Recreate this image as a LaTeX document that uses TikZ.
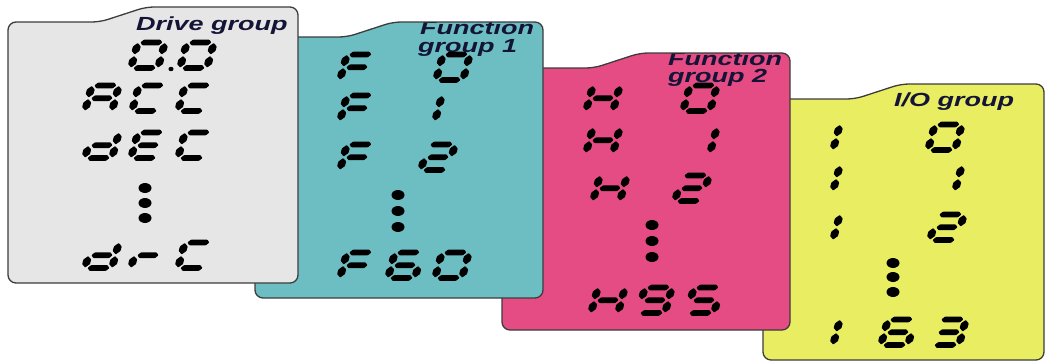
\documentclass[tikz,border=0pt]{standalone}
\usepackage{fontspec}
\newfontfamily\labfont[FakeStretch=1.42]{Liberation Sans}

\definecolor{drivegray}{RGB}{230,230,230}
\definecolor{functeal}{RGB}{108,190,195}
\definecolor{funcpink}{RGB}{228,76,131}
\definecolor{ioyellow}{RGB}{232,237,98}
\definecolor{cardedge}{RGB}{60,60,60}
\definecolor{labelink}{RGB}{20,20,55}

\tikzset{
  segfill/.style={fill=black, rounded corners=0.6pt},
  cardline/.style={draw=cardedge, line width=1.3pt},
  lab/.style={font=\labfont\bfseries\itshape\fontsize{19}{21}\selectfont,
              text=labelink, inner sep=0pt, anchor=base west},
  dotmark/.style={fill=black}
}

% one horizontal / vertical segment of a seven-segment cell
\newcommand\hseg[3]{\fill[segfill] (#2,#1) -- ({#2+2.6},{#1+2.8}) -- ({#3-2.6},{#1+2.8}) -- (#3,#1) -- ({#3-2.6},{#1-2.8}) -- ({#2+2.6},{#1-2.8}) -- cycle;}
\newcommand\vseg[3]{\fill[segfill] (#1,#2) -- ({#1+3.9},{#2+3.4}) -- ({#1+3.9},{#3-3.4}) -- (#1,#3) -- ({#1-3.9},{#3-3.4}) -- ({#1-3.9},{#2+3.4}) -- cycle;}
\newcommand\segxa{\hseg{25.5}{2.6}{24.4}}
\newcommand\segxb{\vseg{27}{13.6}{25}}
\newcommand\segxc{\vseg{27}{0.5}{11.9}}
\newcommand\segxd{\hseg{0}{2.6}{24.4}}
\newcommand\segxe{\vseg{0}{0.5}{11.9}}
\newcommand\segxf{\vseg{0}{13.6}{25}}
\newcommand\segxg{\hseg{12.75}{3}{24}}

% slanted seven-segment character: x, y of bottom-left, list of lit segments
\newcommand\glyph[3]{\begin{scope}[shift={(#1,-#2)}, xslant=0.27]
  \foreach \s in {#3}{\csname segx\s\endcsname}
\end{scope}}

% three stacked dots
\newcommand\threedots[4]{%
  \fill[dotmark] (#1,-#2) ellipse (6.5 and 5);
  \fill[dotmark] (#1,-#3) ellipse (6.5 and 5);
  \fill[dotmark] (#1,-#4) ellipse (6.5 and 5);}

% card with a tab: left, top, right, bottom, fill colour, title
\newcommand\drawcard[6]{%
  \fill[#5, rounded corners=8pt] (#1,-#4) -- (#1,{-#2-15}) -- ({#1+92},{-#2-15}) -- ({#1+138},-#2) -- (#3,-#2) -- (#3,-#4) -- cycle;
  \begin{scope}
    \clip[rounded corners=8pt] (#1,-#4) -- (#1,{-#2-15}) -- ({#1+92},{-#2-15}) -- ({#1+138},-#2) -- (#3,-#2) -- (#3,-#4) -- cycle;
    #6
  \end{scope}
  \draw[cardline, rounded corners=8pt] (#1,-#4) -- (#1,{-#2-15}) -- ({#1+92},{-#2-15}) -- ({#1+138},-#2) -- (#3,-#2) -- (#3,-#4) -- cycle;
}

\begin{document}
\begin{tikzpicture}[x=1pt,y=1pt]
\useasboundingbox (0,0) rectangle (1045,-362);

% I/O group
\drawcard{763}{84}{1044}{360}{ioyellow}{\node[lab] (io) at (894,-106) {I/O group};}
\glyph{833}{150}{e,f} \glyph{928}{150}{a,b,c,d,e,f}
\glyph{833}{191}{e,f} \glyph{928}{191}{b,c}
\glyph{833}{240}{e,f} \glyph{930}{240}{a,b,d,e,g}
\threedots{893}{263}{277}{292}
\glyph{833}{345}{e,f} \glyph{881}{345}{a,c,d,e,f,g} \glyph{932}{345}{a,b,c,d,g}

% Function group 2
\drawcard{502}{53}{790}{330}{funcpink}{\node[lab] (fntwo) at (668,-65) {Function};
  \node[lab] (grptwo) at (668,-82) {group 2};}
\glyph{586}{111}{b,c,e,f,g} \glyph{683}{111}{a,b,c,d,e,f}
\glyph{586}{153}{b,c,e,f,g} \glyph{683}{153}{b,c}
\glyph{593}{201}{b,c,e,f,g} \glyph{675}{201}{a,b,d,e,g}
\threedots{652}{225}{241}{257}
\glyph{591}{313}{b,c,e,f,g} \glyph{638}{313}{a,b,c,d,f,g} \glyph{687}{313}{a,c,d,f,g}

% Function group 1
\drawcard{255}{22}{543}{298}{functeal}{\node[lab] (fnone) at (420,-34) {Function};
  \node[lab] (grpone) at (418,-52) {group 1};}
\glyph{340}{80}{a,e,f,g} \glyph{436}{80}{a,b,c,d,e,f}
\glyph{340}{121}{a,e,f,g} \glyph{435}{121}{e,f}
\glyph{340}{170}{a,e,f,g} \glyph{421}{170}{a,b,d,e,g}
\threedots{398}{195}{211}{227}
\glyph{340}{278}{a,e,f,g} \glyph{388}{278}{a,c,d,e,f,g} \glyph{435}{278}{a,b,c,d,e,f}

% Drive group
\drawcard{8}{7}{298}{283}{drivegray}{\node[lab] (drive) at (136,-30) {Drive group};}
\glyph{131}{68}{a,b,c,d,e,f} \glyph{180}{68}{a,b,c,d,e,f}
\fill[dotmark] (171,-69) ellipse (2.6 and 2.2);
\glyph{85}{111}{a,b,c,e,f,g} \glyph{132}{111}{a,d,e,f} \glyph{178}{111}{a,d,e,f}
\glyph{85}{158}{b,c,d,e,g} \glyph{131}{158}{a,d,e,f,g} \glyph{178}{158}{a,d,e,f}
\threedots{145}{188}{203}{218}
\glyph{85}{268}{b,c,d,e,g} \glyph{131}{268}{e,g} \glyph{178}{268}{a,d,e,f}

\end{tikzpicture}
\end{document}
